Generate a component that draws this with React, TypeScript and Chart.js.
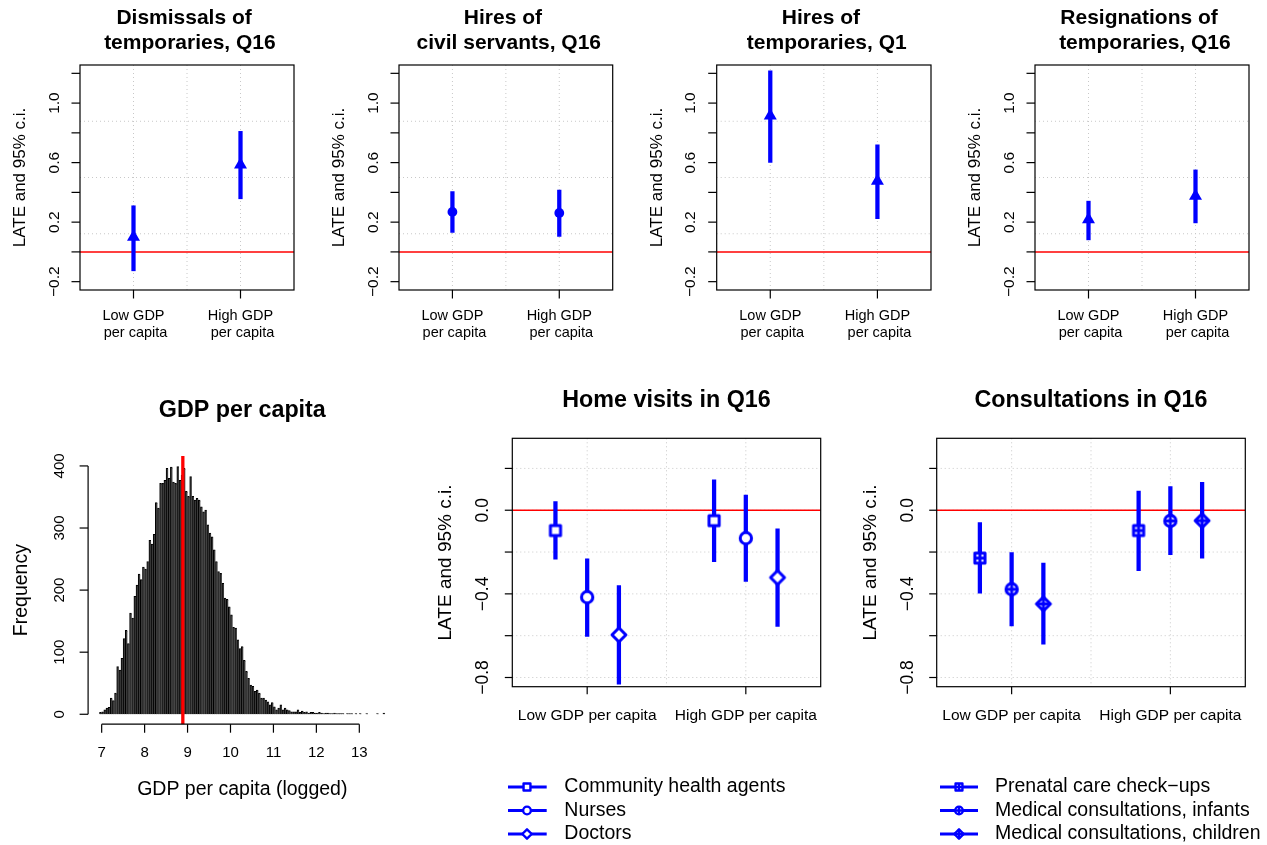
import React, { useEffect, useRef } from "react";
import { Chart, registerables } from "chart.js";

Chart.register(...registerables);

const FONT_FAMILY = "'Liberation Sans', Arial, Helvetica, sans-serif";
const BLUE = "#0000FF";
const RED = "#FF0000";
const GRID_COLOR = "#C8C8C8";

// ---------------- Top row data ----------------
const topCategoryX = [1, 2];
const topCategoryLabels = [["Low GDP", " per capita"], ["High GDP", " per capita"]];
const topYTicks = [-0.2, 0, 0.2, 0.4, 0.6, 0.8, 1.0, 1.2];
const topYTickLabels = ["\u22120.2", "", "0.2", "", "0.6", "", "1.0", ""];
const topYRange = [-0.256, 1.256];
const topXRange = [0.5, 2.5];
const topYTitle = "LATE and 95% c.i.";

const dismissalsTitle = ["Dismissals of ", " temporaries, Q16"];
const dismissalsEst = [0.1, 0.585];
const dismissalsLow = [-0.127, 0.357];
const dismissalsHigh = [0.31, 0.81];

const hiresCivilTitle = ["Hires of ", " civil servants, Q16"];
const hiresCivilEst = [0.269, 0.262];
const hiresCivilLow = [0.131, 0.104];
const hiresCivilHigh = [0.405, 0.416];

const hiresTempTitle = ["Hires of ", " temporaries, Q1"];
const hiresTempEst = [0.915, 0.477];
const hiresTempLow = [0.601, 0.224];
const hiresTempHigh = [1.216, 0.719];

const resignTitle = ["Resignations of ", " temporaries, Q16"];
const resignEst = [0.217, 0.375];
const resignLow = [0.081, 0.195];
const resignHigh = [0.341, 0.551];

// ---------------- Histogram data ----------------
const histTitle = "GDP per capita";
const histXTitle = "GDP per capita (logged)";
const histYTitle = "Frequency";
const histBinStart = 6.95;
const histBinWidth = 0.05;
const histCounts = [
  3, 4, 7, 10, 11, 26, 22, 34, 77, 71,
  90, 122, 135, 114, 163, 155, 190, 208, 226, 217,
  237, 234, 246, 280, 274, 290, 341, 332, 372, 372,
  377, 396, 380, 398, 374, 372, 399, 377, 385, 396,
  359, 351, 383, 351, 345, 348, 345, 334, 326, 329,
  305, 292, 286, 265, 246, 230, 227, 211, 187, 185,
  173, 160, 140, 139, 120, 106, 109, 87, 69, 58,
  47, 45, 37, 39, 34, 26, 26, 23, 20, 15,
  19, 12, 7, 10, 15, 7, 10, 7, 6, 4,
  4, 4, 7, 3, 5, 3, 4, 2, 3, 3,
  2, 2, 3, 2, 1, 2, 2, 1, 1, 2,
  1, 1, 1, 1, 0, 1, 1, 1, 0, 1,
  0, 1, 0, 0, 1, 0, 0, 0, 0, 1,
  0, 0, 2,
];
const histXTicks = [7, 8, 9, 10, 11, 12, 13];
const histXTickLabels = ["7", "8", "9", "10", "11", "12", "13"];
const histYTicks = [0, 100, 200, 300, 400];
const histYTickLabels = ["0", "100", "200", "300", "400"];
const histXRange = [6.684, 13.866];
const histYRange = [-16, 416];
const histMedian = 8.89;

// ---------------- Bottom row data ----------------
const bottomCategoryX = [1, 2];
const bottomCategoryLabels = ["Low GDP per capita", "High GDP per capita"];
const bottomYTicks = [-0.8, -0.6, -0.4, -0.2, 0, 0.2];
const bottomYTickLabels = ["\u22120.8", "", "\u22120.4", "", "0.0", ""];
const bottomYRange = [-0.844, 0.344];
const bottomXRange = [0.528, 2.472];
const seriesOffsets = [-0.2, 0, 0.2];

const homeTitle = "Home visits in Q16";
const homeSeriesNames = ["Community health agents", "Nurses", "Doctors"];
const chaEst = [-0.097, -0.05];
const chaLow = [-0.234, -0.246];
const chaHigh = [0.041, 0.145];
const nursesEst = [-0.416, -0.134];
const nursesLow = [-0.604, -0.341];
const nursesHigh = [-0.233, 0.073];
const doctorsEst = [-0.596, -0.322];
const doctorsLow = [-0.832, -0.556];
const doctorsHigh = [-0.36, -0.089];

const consultTitle = "Consultations in Q16";
const consultSeriesNames = [
  "Prenatal care check\u2212ups",
  "Medical consultations, infants",
  "Medical consultations, children",
];
const prenatalEst = [-0.229, -0.097];
const prenatalLow = [-0.397, -0.289];
const prenatalHigh = [-0.059, 0.092];
const infantsEst = [-0.378, -0.051];
const infantsLow = [-0.553, -0.212];
const infantsHigh = [-0.203, 0.113];
const childrenEst = [-0.448, -0.05];
const childrenLow = [-0.641, -0.229];
const childrenHigh = [-0.253, 0.134];

// ---------------- Markers ----------------
type MarkerKind = "openSquare" | "openCircle" | "openDiamond" | "squarePlus" | "circlePlus" | "diamondPlus";

function drawMarker(ctx: CanvasRenderingContext2D, kind: MarkerKind, cx: number, cy: number, scale: number, lw: number) {
  const hs = 4.3 * scale;
  const r = 4.8 * scale;
  const hd = 5.9 * scale;
  ctx.save();
  ctx.setLineDash([]);
  ctx.strokeStyle = BLUE;
  ctx.fillStyle = "#FFFFFF";
  ctx.lineWidth = lw;
  ctx.lineJoin = "round";
  ctx.beginPath();
  let ext = 0;
  if (kind === "openSquare" || kind === "squarePlus") {
    ctx.rect(cx - hs, cy - hs, 2 * hs, 2 * hs);
    ext = hs;
  } else if (kind === "openCircle" || kind === "circlePlus") {
    ctx.arc(cx, cy, r, 0, Math.PI * 2);
    ext = r;
  } else {
    ctx.moveTo(cx, cy - hd);
    ctx.lineTo(cx + hd, cy);
    ctx.lineTo(cx, cy + hd);
    ctx.lineTo(cx - hd, cy);
    ctx.closePath();
    ext = hd;
  }
  ctx.fill();
  ctx.stroke();
  if (kind.endsWith("Plus")) {
    ctx.beginPath();
    ctx.moveTo(cx - ext, cy);
    ctx.lineTo(cx + ext, cy);
    ctx.moveTo(cx, cy - ext);
    ctx.lineTo(cx, cy + ext);
    ctx.stroke();
  }
  ctx.restore();
}

function markerCanvas(kind: MarkerKind, scale: number, lw: number) {
  const c = document.createElement("canvas");
  c.width = 26;
  c.height = 26;
  drawMarker(c.getContext("2d")!, kind, 13, 13, scale, lw);
  return c;
}

// ---------------- R-style decoration plugin ----------------
interface AxisSpec {
  side: "left" | "bottom";
  ticks: number[];
  labels: (string | string[])[];
  fontSize: number;
  labelOffset: number;
  lineSpacing?: number;
  tickLen: number;
  drawLine: boolean;
}
interface TitleSpec {
  text: string;
  fontSize: number;
  offset: number;
}
interface LegendSpec {
  names: string[];
  markers: MarkerKind[];
  rows: number[];
  lineStart: number;
  lineEnd: number;
  markerX: number;
  textX: number;
  fontSize: number;
}
interface DecoSpec {
  box: boolean;
  gridX: number[];
  gridY: number[];
  axes: AxisSpec[];
  yTitle?: TitleSpec;
  xTitle?: TitleSpec;
  legend?: LegendSpec;
}

function rDecor(spec: DecoSpec) {
  return {
    id: "rDecor",
    beforeDatasetsDraw(chart: any) {
      const { ctx, chartArea: a, scales } = chart;
      const xs = scales.x;
      const ys = scales.y;
      ctx.save();
      ctx.strokeStyle = GRID_COLOR;
      ctx.lineWidth = 1;
      ctx.setLineDash([1, 3]);
      for (const v of spec.gridX) {
        const px = xs.getPixelForValue(v);
        ctx.beginPath();
        ctx.moveTo(px, a.top);
        ctx.lineTo(px, a.bottom);
        ctx.stroke();
      }
      for (const v of spec.gridY) {
        const py = ys.getPixelForValue(v);
        ctx.beginPath();
        ctx.moveTo(a.left, py);
        ctx.lineTo(a.right, py);
        ctx.stroke();
      }
      ctx.restore();
    },
    afterDatasetsDraw(chart: any) {
      const { ctx, chartArea: a, scales } = chart;
      const xs = scales.x;
      const ys = scales.y;
      ctx.save();
      ctx.setLineDash([]);
      ctx.strokeStyle = "#000";
      ctx.fillStyle = "#000";
      ctx.lineWidth = 1.2;
      if (spec.box) ctx.strokeRect(a.left, a.top, a.right - a.left, a.bottom - a.top);
      for (const ax of spec.axes) {
        ctx.font = `${ax.fontSize}px ${FONT_FAMILY}`;
        ctx.textAlign = "center";
        ctx.textBaseline = "middle";
        if (ax.side === "left") {
          const ps = ax.ticks.map((v) => ys.getPixelForValue(v));
          if (ax.drawLine) {
            ctx.beginPath();
            ctx.moveTo(a.left, ps[0]);
            ctx.lineTo(a.left, ps[ps.length - 1]);
            ctx.stroke();
          }
          ps.forEach((p, i) => {
            ctx.beginPath();
            ctx.moveTo(a.left, p);
            ctx.lineTo(a.left - ax.tickLen, p);
            ctx.stroke();
            const lab = ax.labels[i];
            if (lab) {
              ctx.save();
              ctx.translate(a.left - ax.labelOffset, p);
              ctx.rotate(-Math.PI / 2);
              ctx.fillText(lab as string, 0, 0);
              ctx.restore();
            }
          });
        } else {
          const ps = ax.ticks.map((v) => xs.getPixelForValue(v));
          if (ax.drawLine) {
            ctx.beginPath();
            ctx.moveTo(ps[0], a.bottom);
            ctx.lineTo(ps[ps.length - 1], a.bottom);
            ctx.stroke();
          }
          ps.forEach((p, i) => {
            ctx.beginPath();
            ctx.moveTo(p, a.bottom);
            ctx.lineTo(p, a.bottom + ax.tickLen);
            ctx.stroke();
            const lab = ax.labels[i];
            const lines = Array.isArray(lab) ? lab : [lab];
            lines.forEach((ln, k) => {
              if (ln) ctx.fillText(ln, p, a.bottom + ax.labelOffset + k * (ax.lineSpacing || 0));
            });
          });
        }
      }
      if (spec.yTitle) {
        ctx.font = `${spec.yTitle.fontSize}px ${FONT_FAMILY}`;
        ctx.save();
        ctx.translate(a.left - spec.yTitle.offset, (a.top + a.bottom) / 2);
        ctx.rotate(-Math.PI / 2);
        ctx.fillText(spec.yTitle.text, 0, 0);
        ctx.restore();
      }
      if (spec.xTitle) {
        ctx.font = `${spec.xTitle.fontSize}px ${FONT_FAMILY}`;
        ctx.fillText(spec.xTitle.text, (a.left + a.right) / 2, a.bottom + spec.xTitle.offset);
      }
      if (spec.legend) {
        const lg = spec.legend;
        lg.names.forEach((name, i) => {
          const y = a.bottom + lg.rows[i];
          ctx.strokeStyle = BLUE;
          ctx.lineWidth = 3;
          ctx.lineCap = "butt";
          ctx.beginPath();
          ctx.moveTo(a.left + lg.lineStart, y);
          ctx.lineTo(a.left + lg.lineEnd, y);
          ctx.stroke();
          drawMarker(ctx, lg.markers[i], a.left + lg.markerX, y, 0.8, 2.4);
          ctx.fillStyle = "#000";
          ctx.font = `${lg.fontSize}px ${FONT_FAMILY}`;
          ctx.textAlign = "left";
          ctx.textBaseline = "middle";
          ctx.fillText(name, a.left + lg.textX, y);
        });
      }
      ctx.restore();
    },
  };
}

// ---------------- Config builders ----------------
interface SeriesSpec {
  x: number[];
  est: number[];
  low: number[];
  high: number[];
  pointStyle: any;
  radius: number;
  fill: string;
  borderWidth: number;
}

function quarters(r: number[]) {
  return [1, 2, 3].map((k) => r[0] + ((r[1] - r[0]) * k) / 4);
}

function effectConfig(o: {
  title: string | string[];
  titleSize: number;
  titleLineHeight: number;
  titlePad: { top: number; bottom: number };
  padding: { left: number; right: number; bottom: number };
  xRange: number[];
  yRange: number[];
  series: SeriesSpec[];
  deco: DecoSpec;
}): any {
  const datasets: any[] = [];
  o.series.forEach((s) =>
    datasets.push({
      type: "scatter",
      data: s.x.map((x, i) => ({ x, y: s.est[i] })),
      pointStyle: s.pointStyle,
      pointRadius: s.radius,
      backgroundColor: s.fill,
      borderColor: BLUE,
      borderWidth: s.borderWidth,
      order: 0,
    })
  );
  o.series.forEach((s) =>
    datasets.push({
      type: "bar",
      data: s.x.map((x, i) => ({ x, y: [s.low[i], s.high[i]] })),
      backgroundColor: BLUE,
      borderWidth: 0,
      barThickness: 3.6,
      grouped: false,
      order: 1,
    })
  );
  datasets.push({
    type: "line",
    data: [
      { x: o.xRange[0], y: 0 },
      { x: o.xRange[1], y: 0 },
    ],
    borderColor: RED,
    borderWidth: 1.5,
    pointRadius: 0,
    order: 2,
  });
  return {
    type: "scatter",
    data: { datasets },
    options: {
      responsive: false,
      maintainAspectRatio: false,
      animation: false,
      events: [],
      layout: { padding: { left: o.padding.left, right: o.padding.right, top: 0, bottom: o.padding.bottom } },
      plugins: {
        legend: { display: false },
        tooltip: { enabled: false },
        title: {
          display: true,
          text: o.title,
          color: "#000",
          font: { family: FONT_FAMILY, size: o.titleSize, weight: "bold", lineHeight: o.titleLineHeight / o.titleSize },
          padding: o.titlePad,
        },
      },
      scales: {
        x: { type: "linear", display: false, min: o.xRange[0], max: o.xRange[1], offset: false },
        y: { type: "linear", display: false, min: o.yRange[0], max: o.yRange[1] },
      },
    },
    plugins: [rDecor(o.deco)],
  };
}

function topPanel(title: string[], est: number[], low: number[], high: number[], triangle: boolean, padLeft: number, padRight: number) {
  return effectConfig({
    title,
    titleSize: 21,
    titleLineHeight: 25,
    titlePad: { top: 5.5, bottom: 9.5 },
    padding: { left: padLeft, right: padRight, bottom: 55 },
    xRange: topXRange,
    yRange: topYRange,
    series: [
      {
        x: topCategoryX,
        est,
        low,
        high,
        pointStyle: triangle ? "triangle" : "circle",
        radius: triangle ? 7.5 : 4.9,
        fill: BLUE,
        borderWidth: 0,
      },
    ],
    deco: {
      box: true,
      gridX: quarters(topXRange),
      gridY: quarters(topYRange),
      axes: [
        { side: "left", ticks: topYTicks, labels: topYTickLabels, fontSize: 15.5, labelOffset: 25.7, tickLen: 8.5, drawLine: false },
        { side: "bottom", ticks: topCategoryX, labels: topCategoryLabels, fontSize: 14.5, labelOffset: 25.7, lineSpacing: 17.6, tickLen: 8.5, drawLine: false },
      ],
      yTitle: { text: topYTitle, fontSize: 17, offset: 59.5 },
    },
  });
}

function bottomPanel(title: string, names: string[], kinds: MarkerKind[], ests: number[][], lows: number[][], highs: number[][], padLeft: number, padRight: number, legendX: { lineStart: number; lineEnd: number; markerX: number; textX: number }) {
  const series: SeriesSpec[] = ests.map((est, k) => ({
    x: bottomCategoryX.map((v) => v + seriesOffsets[k]),
    est,
    low: lows[k],
    high: highs[k],
    pointStyle: markerCanvas(kinds[k], 1.18, 3),
    radius: 5,
    fill: "#FFFFFF",
    borderWidth: 0,
  }));
  return effectConfig({
    title,
    titleSize: 23.3,
    titleLineHeight: 28,
    titlePad: { top: 6.7, bottom: 23.6 },
    padding: { left: padLeft, right: padRight, bottom: 158.3 },
    xRange: bottomXRange,
    yRange: bottomYRange,
    series,
    deco: {
      box: true,
      gridX: [1, 1.5, 2],
      gridY: bottomYTicks,
      axes: [
        { side: "left", ticks: bottomYTicks, labels: bottomYTickLabels, fontSize: 17.5, labelOffset: 28.8, tickLen: 7.5, drawLine: false },
        { side: "bottom", ticks: bottomCategoryX, labels: bottomCategoryLabels, fontSize: 15.5, labelOffset: 29.3, tickLen: 7.5, drawLine: false },
      ],
      yTitle: { text: topYTitle, fontSize: 19, offset: 66.3 },
      legend: {
        names,
        markers: kinds,
        rows: [100.3, 123.8, 147.3],
        ...legendX,
        fontSize: 19.5,
      },
    },
  });
}

function histConfig(): any {
  const centers = histCounts.map((_, i) => histBinStart + histBinWidth * (i + 0.5));
  return {
    type: "bar",
    data: {
      datasets: [
        {
          type: "line",
          data: [
            { x: histMedian, y: histYRange[0] },
            { x: histMedian, y: histYRange[1] },
          ],
          borderColor: RED,
          borderWidth: 3.3,
          pointRadius: 0,
          order: 0,
        },
        {
          type: "bar",
          data: centers.map((x, i) => ({ x, y: histCounts[i] })),
          backgroundColor: "#3A3A3A",
          borderColor: "#000000",
          borderWidth: { left: 1, top: 1, right: 0, bottom: 0 },
          borderSkipped: false,
          barPercentage: 1,
          categoryPercentage: 1,
          order: 1,
        },
      ],
    },
    options: {
      responsive: false,
      maintainAspectRatio: false,
      animation: false,
      events: [],
      layout: { padding: { left: 88.1, right: 28.5, top: 0, bottom: 75.8 } },
      plugins: {
        legend: { display: false },
        tooltip: { enabled: false },
        title: {
          display: true,
          text: histTitle,
          color: "#000",
          font: { family: FONT_FAMILY, size: 23.3, weight: "bold", lineHeight: 28 / 23.3 },
          padding: { top: 16.7, bottom: 31.3 },
        },
      },
      scales: {
        x: { type: "linear", display: false, min: histXRange[0], max: histXRange[1], offset: false },
        y: { type: "linear", display: false, min: histYRange[0], max: histYRange[1] },
      },
    },
    plugins: [
      rDecor({
        box: false,
        gridX: [],
        gridY: [],
        axes: [
          { side: "left", ticks: histYTicks, labels: histYTickLabels, fontSize: 15, labelOffset: 28, tickLen: 8.5, drawLine: true },
          { side: "bottom", ticks: histXTicks, labels: histXTickLabels, fontSize: 15, labelOffset: 28.5, tickLen: 8.5, drawLine: true },
        ],
        yTitle: { text: histYTitle, fontSize: 19.5, offset: 66 },
        xTitle: { text: histXTitle, fontSize: 19.5, offset: 65.5 },
      }),
    ],
  };
}

// ---------------- Components ----------------
function ChartCanvas(props: { left: number; top: number; width: number; height: number; build: () => any }) {
  const ref = useRef<HTMLCanvasElement>(null);
  useEffect(() => {
    const chart = new Chart(ref.current as HTMLCanvasElement, props.build());
    return () => chart.destroy();
  }, []);
  return (
    <canvas
      ref={ref}
      width={props.width}
      height={props.height}
      style={{ position: "absolute", left: props.left, top: props.top, width: props.width, height: props.height, display: "block" }}
    />
  );
}

export default function App() {
  return (
    <div style={{ position: "absolute", left: 0, top: 0, width: 1267, height: 845, background: "#FFFFFF", overflow: "hidden" }}>
      <ChartCanvas left={0} top={0} width={317} height={345} build={() => topPanel(dismissalsTitle, dismissalsEst, dismissalsLow, dismissalsHigh, true, 80, 23)} />
      <ChartCanvas left={317} top={0} width={317} height={345} build={() => topPanel(hiresCivilTitle, hiresCivilEst, hiresCivilLow, hiresCivilHigh, false, 82, 21.3)} />
      <ChartCanvas left={634} top={0} width={317} height={345} build={() => topPanel(hiresTempTitle, hiresTempEst, hiresTempLow, hiresTempHigh, true, 82.7, 20)} />
      <ChartCanvas left={951} top={0} width={316} height={345} build={() => topPanel(resignTitle, resignEst, resignLow, resignHigh, true, 84, 18)} />
      <ChartCanvas left={0} top={380} width={425} height={420} build={histConfig} />
      <ChartCanvas
        left={425}
        top={380}
        width={425}
        height={465}
        build={() =>
          bottomPanel(
            homeTitle,
            homeSeriesNames,
            ["openSquare", "openCircle", "openDiamond"],
            [chaEst, nursesEst, doctorsEst],
            [chaLow, nursesLow, doctorsLow],
            [chaHigh, nursesHigh, doctorsHigh],
            87.3,
            29.3,
            { lineStart: -4.3, lineEnd: 34.4, markerX: 14.7, textX: 52 }
          )
        }
      />
      <ChartCanvas
        left={850}
        top={380}
        width={417}
        height={465}
        build={() =>
          bottomPanel(
            consultTitle,
            consultSeriesNames,
            ["squarePlus", "circlePlus", "diamondPlus"],
            [prenatalEst, infantsEst, childrenEst],
            [prenatalLow, infantsLow, childrenLow],
            [prenatalHigh, infantsHigh, childrenHigh],
            86.7,
            21.7,
            { lineStart: 3.3, lineEnd: 41.3, markerX: 22.3, textX: 58.3 }
          )
        }
      />
    </div>
  );
}
